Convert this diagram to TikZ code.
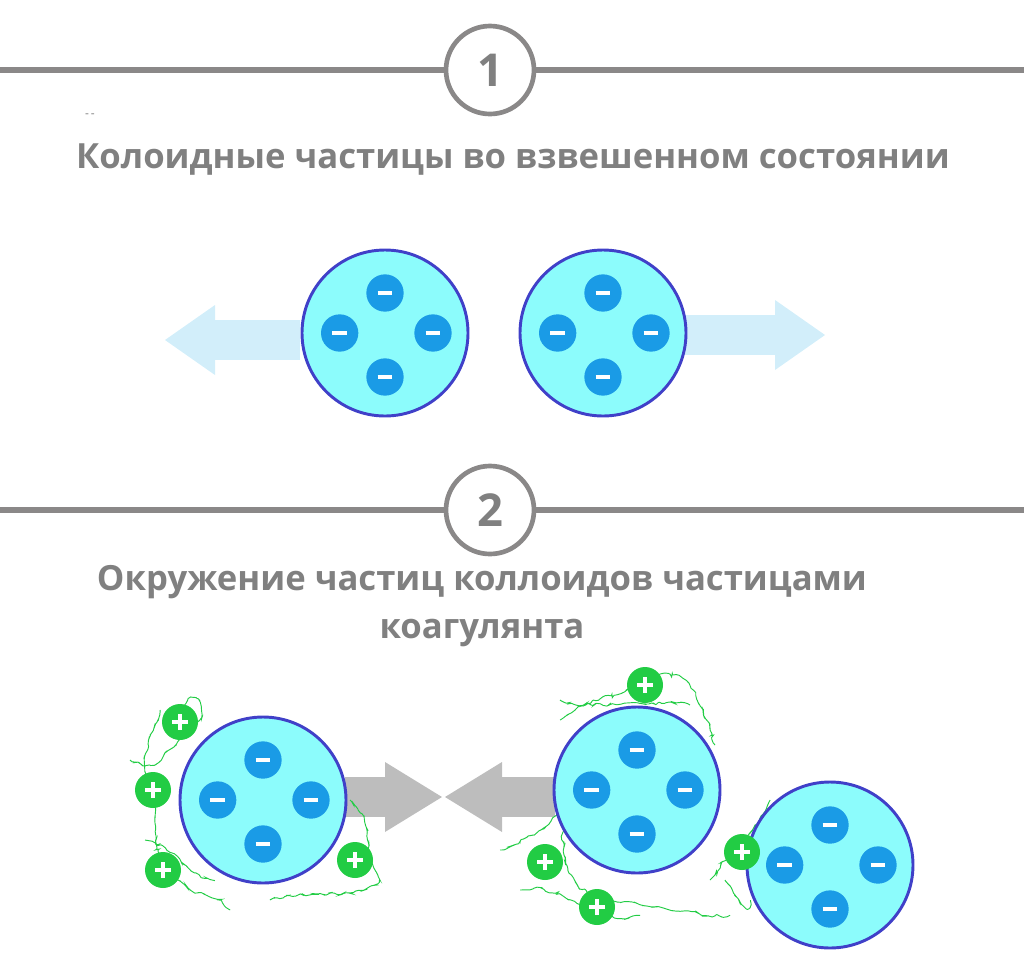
\documentclass[tikz,border=0pt]{standalone}
\usepackage{fontspec}
\setmainfont{Open Sans}
\usetikzlibrary{positioning, arrows.meta, calc, decorations.pathmorphing}
\definecolor{txtgray}{HTML}{808080}
\definecolor{linegray}{HTML}{8A8888}
\definecolor{partfill}{HTML}{8CFCFC}
\definecolor{partdraw}{HTML}{4040C8}
\definecolor{minusblue}{HTML}{1A9BE6}
\definecolor{plusgreen}{HTML}{22CC44}
\definecolor{arrowblue}{HTML}{D2EEFA}
\definecolor{arrowgray}{HTML}{BDBDBD}

\tikzset{
  particle/.style={circle, draw=partdraw, line width=2.2pt, fill=partfill, minimum size=124.5pt},
  minus/.style={circle, fill=minusblue, minimum size=28pt, inner sep=0pt,
    path picture={\draw[white, line width=2.4pt] ([xshift=-5.5pt]path picture bounding box.center) -- ([xshift=5.5pt]path picture bounding box.center);}},
  plus/.style={circle, fill=plusgreen, minimum size=27pt, inner sep=0pt,
    path picture={\draw[white, line width=2.6pt] ([xshift=-6pt]path picture bounding box.center) -- ([xshift=6pt]path picture bounding box.center)
      ([yshift=-6pt]path picture bounding box.center) -- ([yshift=6pt]path picture bounding box.center);}},
  numring/.style={circle, draw=linegray, line width=3.5pt, fill=white, minimum size=66pt, text=txtgray, font=\bfseries\fontsize{34}{34}\selectfont},
  title/.style={text=txtgray, font=\bfseries\fontsize{26}{36}\selectfont, align=center},
  hair/.style={plusgreen, line width=0.7pt, decorate, decoration={random steps, segment length=3pt, amplitude=1.6pt}, rounded corners=1.5pt}
}

% particle with four negative charges
\newcommand{\colloid}[2]{%
  \node[particle] (#1) at #2 {};
  \node[minus] (#1n) at ([yshift=30pt]#1.center) {};
  \node[minus] (#1w) at ([xshift=-34pt]#1.center) {};
  \node[minus] (#1e) at ([xshift=36pt]#1.center) {};
  \node[minus] (#1s) at ([yshift=-33pt]#1.center) {};
}

\begin{document}
\begin{tikzpicture}[x=0.75pt, y=-0.75pt]
  \useasboundingbox (0,0) rectangle (1024,975);

  % section 1
  \draw[linegray, line width=5pt] (0,70) -- (1024,70);
  \node[numring] (one) at (490,70) {1};
  \node[text=txtgray, font=\small] (dash) at (90,116) {-\,-};
  \node[title] (title1) at (513,160) {Колоидные частицы во взвешенном состоянии};

  \draw[arrowblue, line width=30pt] (300,340) -- (205,340);
  \fill[arrowblue] (165,340) -- (215,305) -- (215,375) -- cycle;
  \draw[arrowblue, line width=30pt] (685,335) -- (785,335);
  \fill[arrowblue] (825,335) -- (775,300) -- (775,370) -- cycle;

  \colloid{pa}{(385,333)}
  \colloid{pb}{(603,333)}

  % section 2
  \draw[linegray, line width=5pt] (0,510) -- (1024,510);
  \node[numring] (two) at (490,510) {2};
  \node[title] (title2) at (482,606) {Окружение частиц коллоидов частицами\\коагулянта};

  \draw[arrowgray, line width=30pt] (345,797) -- (400,797);
  \fill[arrowgray] (442,797) -- (385,762) -- (385,832) -- cycle;
  \draw[arrowgray, line width=30pt] (555,797) -- (490,797);
  \fill[arrowgray] (445,797) -- (502,762) -- (502,832) -- cycle;

  % coagulant hairs
  \draw[hair] (160,710) .. controls (150,740) and (140,760) .. (150,790) .. controls (160,820) and (150,850) .. (170,870) .. controls (190,900) and (215,890) .. (230,910);
  \draw[hair] (130,760) .. controls (160,780) and (170,740) .. (200,720) .. controls (205,700) and (195,690) .. (185,705);
  \draw[hair] (145,840) .. controls (180,850) and (190,880) .. (215,880);
  \draw[hair] (350,800) .. controls (375,820) and (360,850) .. (380,880) .. controls (360,900) and (300,890) .. (270,900);
  \draw[hair] (560,720) .. controls (600,690) and (620,700) .. (645,680) .. controls (690,660) and (700,700) .. (715,745);
  \draw[hair] (560,700) .. controls (590,710) and (640,700) .. (690,705);
  \draw[hair] (500,850) .. controls (530,840) and (560,820) .. (565,800) .. controls (560,850) and (560,880) .. (600,900) .. controls (650,900) and (700,920) .. (730,915);
  \draw[hair] (520,890) .. controls (560,880) and (600,930) .. (640,915);
  \draw[hair] (710,880) .. controls (730,850) and (760,830) .. (770,800);
  \draw[hair] (725,880) .. controls (740,900) and (745,920) .. (750,900);

  \colloid{pc}{(263,800)}
  \colloid{pd}{(637,790)}
  \colloid{pe}{(830,865)}

  \node[plus] (c1) at (180,722) {};
  \node[plus] (c2) at (153,790) {};
  \node[plus] (c3) at (163,870) {};
  \node[plus] (c4) at (355,860) {};
  \node[plus] (c5) at (645,685) {};
  \node[plus] (c6) at (545,862) {};
  \node[plus] (c7) at (597,907) {};
  \node[plus] (c8) at (742,852) {};
\end{tikzpicture}
\end{document}
